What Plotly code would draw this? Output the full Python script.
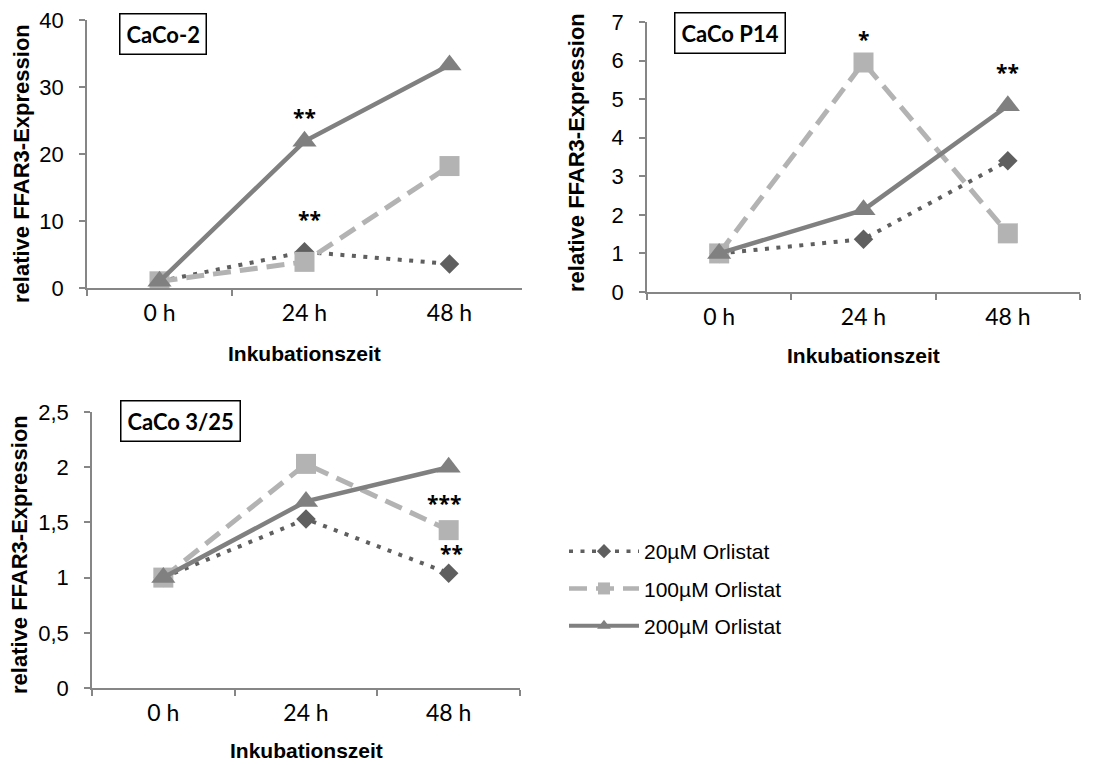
import plotly.graph_objects as go

W, H = 1104, 765

# ---------------- data ----------------
categories = ["0 h", "24 h", "48 h"]
series_names = ["20µM Orlistat", "100µM Orlistat", "200µM Orlistat"]

caco2_20 = [1.0, 5.4, 3.6]
caco2_100 = [1.0, 3.9, 18.2]
caco2_200 = [1.0, 21.9, 33.3]

p14_20 = [1.0, 1.37, 3.40]
p14_100 = [1.0, 5.95, 1.52]
p14_200 = [1.0, 2.13, 4.83]

c325_20 = [1.0, 1.53, 1.04]
c325_100 = [1.0, 2.03, 1.43]
c325_200 = [1.0, 1.69, 2.00]

panel_titles = ["CaCo-2", "CaCo P14", "CaCo 3/25"]
y_max = [40, 7, 2.5]
y_dtick = [10, 1, 0.5]

# significance marks: panel, category, series they sit above, text
star_panel = [0, 0, 1, 1, 2, 2]
star_category = ["24 h", "24 h", "24 h", "48 h", "48 h", "48 h"]
star_series = [2, 0, 1, 2, 1, 0]
star_text = ["**", "**", "*", "**", "***", "**"]

x_title = "Inkubationszeit"
y_title = "relative FFAR3-Expression"

# ---------------- styles / layout ----------------
panels = [
    [caco2_20, caco2_100, caco2_200],
    [p14_20, p14_100, p14_200],
    [c325_20, c325_100, c325_200],
]
colors = ["#5f5f5f", "#b3b3b3", "#808080"]
dashes = ["4px,7.5px", "18px,9px", "solid"]
widths = [4, 5, 4.5]
symbols = ["diamond", "square", "triangle-up"]
msizes = [15, 20, 21]
legend_msizes = [11, 12, 12]

# pixel boxes of plot areas: (left, right, top, bottom)
boxes = [(87, 522, 20, 288), (647, 1080, 22, 292), (92, 520, 412, 688)]
title_box_centers = [(163, 34), (730, 33), (180, 421)]
xtitle_y = [353, 355, 750]
ytitle_pos = [(21, 164), (577, 153), (19, 555)]
star_offsets = [(0, 25), (5, 34), (0, 25), (0, 35), (-5, 28), (3, 21)]

AXC = "#868686"
ARIAL = "Liberation Sans, Arial, sans-serif"
CALIBRI = "Lato, Calibri, sans-serif"
STARFONT = "Open Sans, sans-serif"


def px(x):
    return x / W


def py(y):
    return 1 - y / H


fig = go.Figure()

for p, data in enumerate(panels):
    xa = "x" if p == 0 else f"x{p+1}"
    ya = "y" if p == 0 else f"y{p+1}"
    for s in range(3):
        fig.add_trace(go.Scatter(
            x=categories, y=data[s], xaxis=xa, yaxis=ya,
            mode="lines+markers", name=series_names[s], showlegend=False,
            line=dict(color=colors[s], width=widths[s], dash=dashes[s]),
            marker=dict(symbol=symbols[s], size=msizes[s], color=colors[s],
                        line=dict(width=0)),
            hoverinfo="skip",
        ))

# legend-only entries (smaller symbols, like the reference legend)
for s in range(3):
    fig.add_trace(go.Scatter(
        x=[None], y=[None], xaxis="x", yaxis="y",
        mode="lines+markers", name=series_names[s], legendgroup=f"g{s}",
        line=dict(color=colors[s], width=widths[s] - 0.5, dash=dashes[s]),
        marker=dict(symbol=symbols[s], size=legend_msizes[s], color=colors[s],
                    line=dict(width=0)),
    ))

layout = dict(
    template="none",
    width=W, height=H, margin=dict(l=0, r=0, t=0, b=0, pad=0, autoexpand=False),
    paper_bgcolor="white", plot_bgcolor="white",
    separators=",.",
    font=dict(family=ARIAL, color="black"),
    showlegend=True,
    legend=dict(x=px(564), y=py(531), xanchor="left", yanchor="top",
                font=dict(family=ARIAL, size=21, color="black"),
                itemwidth=70, tracegroupgap=7, bgcolor="rgba(0,0,0,0)",
                borderwidth=0),
)

annotations = []
for p in range(3):
    l, r, t, b = boxes[p]
    xk = "xaxis" if p == 0 else f"xaxis{p+1}"
    yk = "yaxis" if p == 0 else f"yaxis{p+1}"
    xa = "x" if p == 0 else f"x{p+1}"
    ya = "y" if p == 0 else f"y{p+1}"
    layout[xk] = dict(
        domain=[px(l), px(r)], anchor=ya, type="category",
        categoryorder="array", categoryarray=categories, automargin=False,
        range=[-0.5, 2.5], showline=True, linecolor=AXC, linewidth=1.5,
        ticks="outside", tickson="boundaries", ticklen=6, tickcolor=AXC,
        tickwidth=1.5, tickfont=dict(family=CALIBRI, size=23, color="black"),
        ticklabelstandoff=4, showgrid=False, zeroline=False, fixedrange=True,
    )
    layout[yk] = dict(
        domain=[py(b), py(t)], anchor=xa, range=[0, y_max[p]], automargin=False,
        dtick=y_dtick[p], tick0=0, showline=True, linecolor=AXC,
        linewidth=1.5, ticks="outside", ticklen=6, tickcolor=AXC,
        tickwidth=1.5, tickfont=dict(family=ARIAL, size=22, color="black"),
        ticklabelstandoff=11, showgrid=False, zeroline=False, fixedrange=True,
    )
    # panel title box
    cx, cy = title_box_centers[p]
    annotations.append(dict(
        x=px(cx), y=py(cy), xref="paper", yref="paper", showarrow=False,
        text=f"<b>{panel_titles[p]}</b>", xanchor="center", yanchor="middle",
        font=dict(family=CALIBRI, size=22, color="black"),
        bordercolor="black", borderwidth=1.5, borderpad=6, bgcolor="white",
    ))
    # axis titles
    annotations.append(dict(
        x=px((l + r) / 2), y=py(xtitle_y[p]), xref="paper", yref="paper",
        showarrow=False, text=f"<b>{x_title}</b>", xanchor="center",
        yanchor="middle", font=dict(family=ARIAL, size=21, color="black"),
    ))
    tx, ty = ytitle_pos[p]
    annotations.append(dict(
        x=px(tx), y=py(ty), xref="paper", yref="paper", showarrow=False,
        text=f"<b>{y_title}</b>", textangle=-90, xanchor="center",
        yanchor="middle", font=dict(family=ARIAL, size=22, color="black"),
    ))

for i in range(len(star_text)):
    p = star_panel[i]
    xa = "x" if p == 0 else f"x{p+1}"
    ya = "y" if p == 0 else f"y{p+1}"
    ci = categories.index(star_category[i])
    yv = panels[p][star_series[i]][ci]
    dx, dy = star_offsets[i]
    annotations.append(dict(
        x=star_category[i], y=yv, xref=xa, yref=ya, showarrow=False,
        text=f"<b>{star_text[i]}</b>", xshift=dx, yshift=dy - 1,
        font=dict(family=STARFONT, size=21, color="black"),
    ))

layout["annotations"] = annotations
fig.update_layout(**layout)
fig.write_html("out.html")
